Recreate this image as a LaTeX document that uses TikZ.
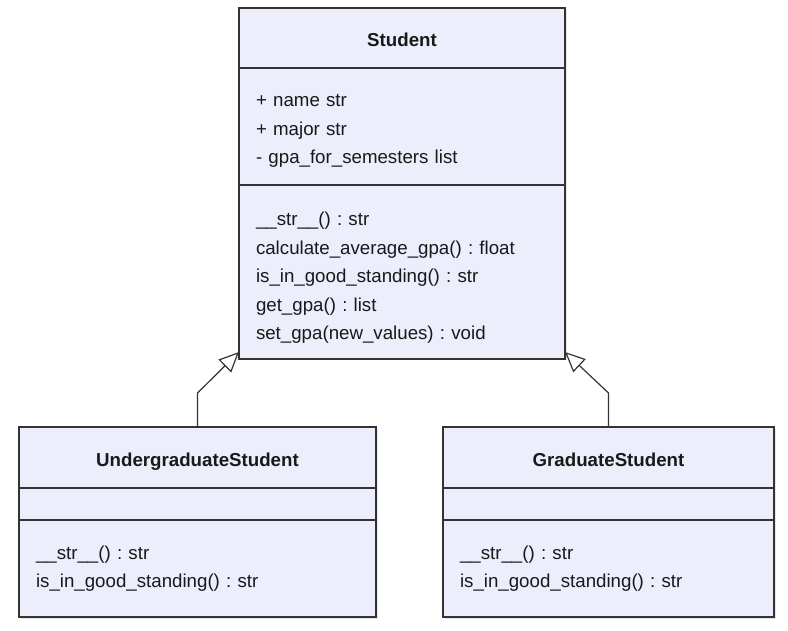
\documentclass[tikz,border=0pt]{standalone}
\usepackage{fontspec}
\setmainfont{Liberation Sans}
\usetikzlibrary{positioning,arrows.meta,shadows}
\definecolor{umlfill}{RGB}{236,238,251}
\definecolor{umlline}{RGB}{51,51,51}

\begin{document}
\begin{tikzpicture}[
  x=1pt,y=-1pt,
  font=\fontsize{18.7pt}{28.5pt}\selectfont\frenchspacing,
  shade/.style={drop shadow={shadow xshift=1.5pt,shadow yshift=-1.5pt,opacity=0.2}},
  cls/.style={draw=umlline,line width=1.4pt,fill=umlfill,outer sep=0pt,shade,
              minimum width=#1,minimum height=60pt,text=black!90,
              text height=17pt,text depth=0pt,
              font=\fontsize{18.7pt}{28.5pt}\selectfont\bfseries},
  part/.style={draw=umlline,line width=1.4pt,fill=umlfill,outer sep=0pt,shade,
               text width=#1,align=left,inner xsep=17pt,inner ysep=0pt,
               text height=39pt,text=black!90},
  empty/.style={part=#1,text height=0pt,text depth=0pt,minimum height=32pt},
  inh/.style={-{Triangle[open,length=20pt,width=18pt]},line width=1.2pt,draw=umlline}
]
\useasboundingbox (0,0) rectangle (788,631);

% base class
\node[cls=326pt] (st) at (402,38) {Student};
\node[part=292pt,text depth=78pt,below=0pt of st] (stattr)
  {+ name str\\+ major str\\- gpa\_for\_semesters list};
\node[part=292pt,text height=41pt,text depth=133pt,below=0pt of stattr] (stmeth)
  {\_\_str\_\_() : str\\calculate\_average\_gpa() : float\\is\_in\_good\_standing() : str\\get\_gpa() : list\\set\_gpa(new\_values) : void};

% subclasses
\node[cls=357pt,minimum height=61pt] (ug) at (197.5,457.5) {UndergraduateStudent};
\node[empty=323pt,below=0pt of ug] (ugattr) {};
\node[part=323pt,text depth=58pt,below=0pt of ugattr] (ugmeth)
  {\_\_str\_\_() : str\\is\_in\_good\_standing() : str};

\node[cls=331pt,minimum height=61pt] (gr) at (608.5,457.5) {GraduateStudent};
\node[empty=297pt,below=0pt of gr] (grattr) {};
\node[part=297pt,text depth=58pt,below=0pt of grattr] (grmeth)
  {\_\_str\_\_() : str\\is\_in\_good\_standing() : str};

% inheritance
\coordinate (stL) at ([yshift=7pt]stmeth.south west);
\coordinate (stR) at ([yshift=7pt]stmeth.south east);
\draw[inh] (ug.north) -- ++(0,-34) -- (stL);
\draw[inh] (gr.north) -- ++(0,-34) -- (stR);
\end{tikzpicture}
\end{document}
